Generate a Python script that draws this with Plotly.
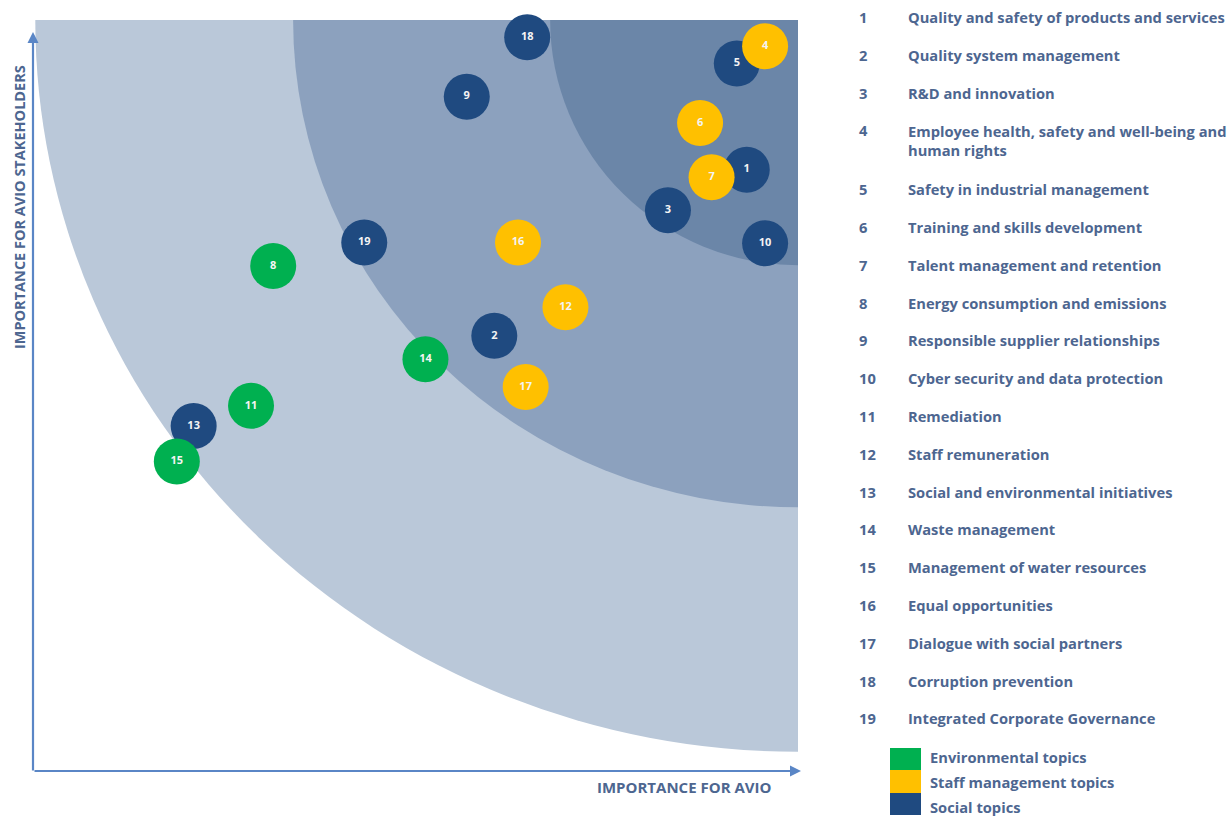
import plotly.graph_objects as go

# Materiality topics: id, importance for Avio (x), importance for stakeholders (y), group
topic_ids = [1, 2, 3, 4, 5, 6, 7, 8, 9, 10, 11, 12, 13, 14, 15, 16, 17, 18, 19]
importance_avio = [9.33, 6.03, 8.30, 9.57, 9.20, 8.72, 8.87, 3.14, 5.67, 9.57,
                   2.85, 6.96, 2.10, 5.13, 1.88, 6.34, 6.44, 6.46, 4.33]
importance_stakeholders = [8.01, 5.80, 7.47, 9.65, 9.42, 8.63, 7.91, 6.73, 8.98, 7.03,
                           4.87, 6.18, 4.60, 5.49, 4.13, 7.04, 5.12, 9.77, 7.04]
topic_group = ["social", "social", "social", "staff", "social", "staff", "staff", "env",
               "social", "social", "env", "staff", "social", "env", "env", "staff",
               "staff", "social", "social"]
topic_names = [
    "Quality and safety of products and services",
    "Quality system management",
    "R&D and innovation",
    "Employee health, safety and well-being and<br>human rights",
    "Safety in industrial management",
    "Training and skills development",
    "Talent management and retention",
    "Energy consumption and emissions",
    "Responsible supplier relationships",
    "Cyber security and data protection",
    "Remediation",
    "Staff remuneration",
    "Social and environmental initiatives",
    "Waste management",
    "Management of water resources",
    "Equal opportunities",
    "Dialogue with social partners",
    "Corruption prevention",
    "Integrated Corporate Governance",
]
group_order = ["social", "staff", "env"]
group_labels = {"env": "Environmental topics", "staff": "Staff management topics",
                "social": "Social topics"}
group_colors = {"env": "#00B050", "staff": "#FFC000", "social": "#1F4A80"}

# Relevance zones (quarter ellipses around the top-right corner), outer to inner
zone_rx = [9.97, 6.60, 3.24]
zone_ry = [9.73, 6.48, 3.26]
zone_colors = ["#BAC8D9", "#8CA1BE", "#6B86A8"]

TEXT = "#4D6690"
AXIS = "#5A86C6"
FONT = "Open Sans"
LIST_SIZE = 14.7

W, H = 1232, 816
L, R, T, B = 33, 798, 20, 772  # plot area in pixels


def px(xp):
    return (xp - L) / (R - L)


def py(yp):
    return (B - yp) / (B - T)


fig = go.Figure()

for g in group_order:
    idx = [i for i, v in enumerate(topic_group) if v == g]
    fig.add_trace(go.Scatter(
        x=[importance_avio[i] for i in idx],
        y=[importance_stakeholders[i] for i in idx],
        text=[str(topic_ids[i]) for i in idx],
        mode="markers+text",
        textposition="middle center",
        textfont=dict(family=FONT, size=11, color="#F4F4F4", weight="bold"),
        marker=dict(size=46, color=group_colors[g], line=dict(width=0)),
        cliponaxis=False,
        showlegend=False,
        hoverinfo="skip",
    ))

shapes = []
for rx, ry, c in zip(zone_rx, zone_ry, zone_colors):
    shapes.append(dict(type="circle", xref="x", yref="y",
                       x0=10 - rx, x1=10 + rx, y0=10 - ry, y1=10 + ry,
                       fillcolor=c, line=dict(width=0), layer="below"))

# Category colour key
key_rows = [("env", 748, 770, 757), ("staff", 770, 793, 782), ("social", 793, 815, 807)]
annotations = []
for g, top, bot, ty in key_rows:
    shapes.append(dict(type="rect", xref="paper", yref="paper",
                       x0=px(890), x1=px(921), y0=py(bot), y1=py(top),
                       fillcolor=group_colors[g], line=dict(width=0)))
    annotations.append(dict(xref="paper", yref="paper", x=px(928), y=py(ty),
                            text="<b>%s</b>" % group_labels[g], showarrow=False,
                            xanchor="left", yanchor="middle",
                            font=dict(family=FONT, size=LIST_SIZE, color=TEXT)))

# Numbered topic list
for k, (tid, name) in enumerate(zip(topic_ids, topic_names)):
    yline = 17 + k * 37.8 + (21 if tid >= 5 else 0)
    annotations.append(dict(xref="paper", yref="paper", x=px(857), y=py(yline),
                            text="<b>%d</b>" % tid, showarrow=False,
                            xanchor="left", yanchor="middle",
                            font=dict(family=FONT, size=LIST_SIZE, color=TEXT)))
    wrapped = "<br>" in name
    annotations.append(dict(xref="paper", yref="paper", x=px(906), y=py(yline),
                            text="<b>%s</b>" % name, showarrow=False,
                            xanchor="left", yanchor="top" if wrapped else "middle",
                            yshift=11 if wrapped else 0,
                            align="left",
                            font=dict(family=FONT, size=LIST_SIZE, color=TEXT)))

# Axis arrows
annotations.append(dict(xref="paper", yref="paper", x=px(33), y=py(32),
                        ax=0, ay=740, text="", showarrow=True,
                        arrowhead=2, arrowsize=1, arrowwidth=2.2, arrowcolor=AXIS))
annotations.append(dict(xref="paper", yref="paper", x=px(801), y=py(771),
                        ax=-768, ay=0, text="", showarrow=True,
                        arrowhead=2, arrowsize=1, arrowwidth=2.2, arrowcolor=AXIS))

# Axis titles
annotations.append(dict(xref="paper", yref="paper", x=px(684), y=py(787),
                        text="<b>IMPORTANCE FOR AVIO</b>", showarrow=False,
                        xanchor="center", yanchor="middle",
                        font=dict(family=FONT, size=15, color=TEXT)))
annotations.append(dict(xref="paper", yref="paper", x=px(19), y=py(207),
                        text="<b>IMPORTANCE FOR AVIO STAKEHOLDERS</b>", showarrow=False,
                        textangle=-90, xanchor="center", yanchor="middle",
                        font=dict(family=FONT, size=14.5, color=TEXT)))

fig.update_layout(
    width=W, height=H,
    margin=dict(l=L, r=W - R, t=T, b=H - B),
    paper_bgcolor="white", plot_bgcolor="white",
    xaxis=dict(range=[0, 10], showgrid=False, zeroline=False, showticklabels=False,
               showline=False, fixedrange=True),
    yaxis=dict(range=[0, 10], showgrid=False, zeroline=False, showticklabels=False,
               showline=False, fixedrange=True),
    shapes=shapes,
    annotations=annotations,
    font=dict(family=FONT, color=TEXT),
)

fig.write_html("out.html")
